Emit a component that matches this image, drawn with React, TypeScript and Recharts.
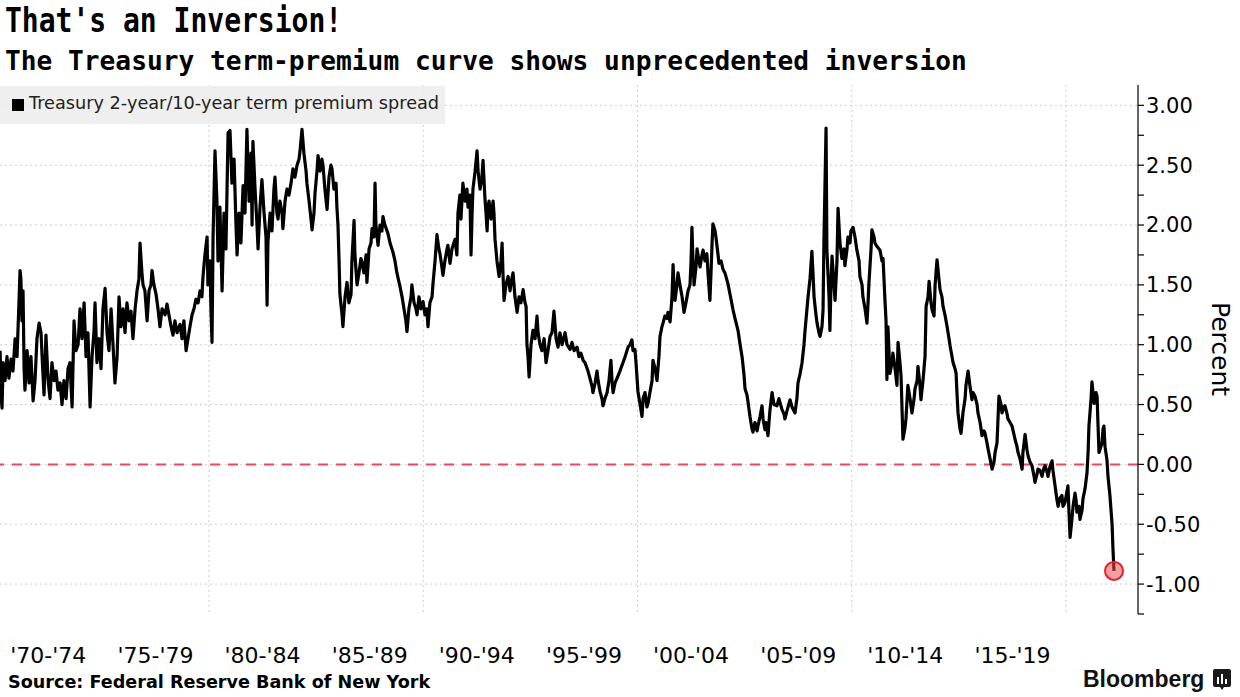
import { CartesianGrid, Line, LineChart, ReferenceDot, ReferenceLine, XAxis, YAxis } from 'recharts';

// [decimal year, spread in percent]
const spread1970s: [number, number][] = [
  [1970.25, 0.95], [1970.29, 0.6], [1970.34, 0.47], [1970.39, 0.85], [1970.48, 0.7], [1970.57, 0.9], [1970.66, 0.72], [1970.76, 0.88], [1970.85, 0.78], [1970.95, 1.05],
  [1971.04, 0.9], [1971.13, 1.35], [1971.18, 1.62], [1971.22, 1.55], [1971.27, 1.2], [1971.32, 1.45], [1971.37, 0.8], [1971.41, 0.62], [1971.51, 0.95], [1971.6, 0.68],
  [1971.69, 0.9], [1971.79, 0.53], [1971.88, 0.7], [1971.97, 1.05], [1972.07, 1.18], [1972.16, 1.1], [1972.21, 0.9], [1972.3, 0.58], [1972.39, 1.08], [1972.49, 0.7],
  [1972.58, 0.55], [1972.67, 0.85], [1972.77, 0.7], [1972.86, 0.78], [1972.95, 0.62], [1973.05, 0.68], [1973.14, 0.5], [1973.23, 0.7], [1973.33, 0.55], [1973.42, 0.8],
  [1973.51, 0.85], [1973.61, 0.48], [1973.7, 1.2], [1973.79, 0.95], [1973.89, 1.0], [1973.98, 1.3], [1974.07, 1.05], [1974.17, 1.35], [1974.26, 0.9], [1974.35, 1.1],
  [1974.45, 0.48], [1974.54, 0.9], [1974.63, 1.1], [1974.68, 1.35], [1974.77, 0.85], [1974.87, 1.05], [1974.96, 0.8], [1975.05, 1.3], [1975.15, 1.47], [1975.24, 1.1],
  [1975.33, 0.95], [1975.43, 1.3], [1975.52, 1.0], [1975.61, 0.68], [1975.71, 0.9], [1975.8, 1.4], [1975.89, 1.15], [1975.99, 1.3], [1976.08, 1.1], [1976.17, 1.35],
  [1976.27, 1.2], [1976.36, 1.28], [1976.45, 1.05], [1976.55, 1.3], [1976.64, 1.45], [1976.73, 1.55], [1976.78, 1.85], [1976.87, 1.6], [1976.92, 1.5], [1977.01, 1.45],
  [1977.11, 1.2], [1977.2, 1.45], [1977.29, 1.5], [1977.34, 1.62], [1977.43, 1.5], [1977.53, 1.42], [1977.62, 1.3], [1977.71, 1.15], [1977.81, 1.3], [1977.95, 1.25],
  [1978.04, 1.34], [1978.13, 1.25], [1978.23, 1.15], [1978.32, 1.08], [1978.41, 1.2], [1978.51, 1.1], [1978.65, 1.17], [1978.74, 1.05], [1978.83, 1.2], [1978.93, 0.95],
  [1979.02, 1.05], [1979.11, 1.15], [1979.21, 1.25], [1979.3, 1.3], [1979.39, 1.38], [1979.49, 1.35], [1979.58, 1.45], [1979.67, 1.4], [1979.72, 1.57], [1979.81, 1.75],
  [1979.91, 1.9], [1979.95, 1.5],
];

const spread1980s: [number, number][] = [
  [1980.05, 1.7], [1980.09, 1.3], [1980.14, 1.02], [1980.19, 1.9], [1980.28, 2.62], [1980.37, 2.2], [1980.42, 1.7], [1980.51, 2.15], [1980.61, 1.45], [1980.7, 2.1],
  [1980.79, 1.8], [1980.89, 2.77], [1980.98, 2.79], [1981.07, 2.35], [1981.17, 2.55], [1981.26, 2.0], [1981.31, 1.75], [1981.4, 2.1], [1981.49, 1.85], [1981.59, 2.33],
  [1981.68, 2.1], [1981.77, 2.8], [1981.87, 2.2], [1981.96, 2.6], [1982.01, 2.0], [1982.05, 2.7], [1982.15, 2.3], [1982.24, 2.0], [1982.29, 1.8], [1982.38, 2.15],
  [1982.47, 2.38], [1982.57, 2.1], [1982.66, 1.9], [1982.71, 1.33], [1982.75, 1.85], [1982.85, 2.1], [1982.94, 1.95], [1983.03, 2.3], [1983.08, 2.4], [1983.17, 2.1],
  [1983.22, 2.05], [1983.31, 2.2], [1983.41, 2.1], [1983.45, 1.97], [1983.55, 2.2], [1983.64, 2.3], [1983.73, 2.25], [1983.83, 2.35], [1983.92, 2.47], [1984.01, 2.4],
  [1984.11, 2.5], [1984.2, 2.55], [1984.25, 2.62], [1984.34, 2.8], [1984.43, 2.6], [1984.53, 2.45], [1984.57, 2.35], [1984.67, 2.2], [1984.76, 2.05], [1984.81, 1.96],
  [1984.9, 2.1], [1984.95, 2.27], [1985.04, 2.45], [1985.09, 2.58], [1985.18, 2.45], [1985.27, 2.55], [1985.32, 2.5], [1985.41, 2.3], [1985.51, 2.13], [1985.6, 2.4],
  [1985.69, 2.5], [1985.74, 2.47], [1985.83, 2.3], [1985.93, 2.35], [1985.97, 2.15], [1986.02, 2.0], [1986.07, 1.7], [1986.11, 1.42], [1986.21, 1.25], [1986.25, 1.15],
  [1986.35, 1.4], [1986.44, 1.52], [1986.53, 1.35], [1986.63, 1.42], [1986.67, 1.7], [1986.77, 2.04], [1986.81, 1.75], [1986.91, 1.5], [1987.0, 1.6], [1987.09, 1.72],
  [1987.14, 1.69], [1987.23, 1.6], [1987.33, 1.75], [1987.37, 1.52], [1987.47, 1.8], [1987.56, 1.85], [1987.61, 1.97], [1987.7, 1.9], [1987.75, 2.35], [1987.79, 2.0],
  [1987.89, 1.83], [1987.98, 2.0], [1988.07, 1.95], [1988.12, 2.07], [1988.21, 2.0], [1988.35, 1.93], [1988.45, 1.85], [1988.59, 1.77], [1988.68, 1.7], [1988.77, 1.6],
  [1988.91, 1.49], [1989.01, 1.4], [1989.1, 1.3], [1989.19, 1.2], [1989.24, 1.11], [1989.33, 1.3], [1989.43, 1.4], [1989.47, 1.5], [1989.57, 1.35], [1989.66, 1.3],
  [1989.71, 1.25], [1989.8, 1.4], [1989.89, 1.3],
];

const spread1990s: [number, number][] = [
  [1989.99, 1.36], [1990.08, 1.25], [1990.17, 1.3], [1990.22, 1.15], [1990.31, 1.35], [1990.41, 1.4], [1990.45, 1.5], [1990.55, 1.7], [1990.64, 1.92], [1990.73, 1.8],
  [1990.78, 1.76], [1990.87, 1.65], [1990.92, 1.58], [1991.01, 1.7], [1991.11, 1.8], [1991.15, 1.83], [1991.25, 1.68], [1991.34, 1.8], [1991.48, 1.88], [1991.57, 1.75],
  [1991.62, 2.1], [1991.71, 2.25], [1991.76, 2.05], [1991.85, 2.35], [1991.95, 2.2], [1992.04, 2.3], [1992.09, 2.15], [1992.18, 2.25], [1992.23, 1.75], [1992.28, 2.1],
  [1992.32, 2.3], [1992.42, 2.45], [1992.51, 2.62], [1992.56, 2.45], [1992.65, 2.3], [1992.74, 2.4], [1992.79, 2.54], [1992.88, 2.22], [1992.93, 2.1], [1992.98, 1.95],
  [1993.02, 2.15], [1993.07, 2.2], [1993.16, 2.05], [1993.26, 2.2], [1993.3, 2.1], [1993.35, 1.88], [1993.44, 1.7], [1993.54, 1.57], [1993.63, 1.7], [1993.68, 1.85],
  [1993.72, 1.6], [1993.77, 1.37], [1993.86, 1.5], [1993.96, 1.57], [1994.05, 1.45], [1994.1, 1.52], [1994.19, 1.6], [1994.28, 1.4], [1994.38, 1.27], [1994.47, 1.4],
  [1994.56, 1.35], [1994.66, 1.46], [1994.75, 1.35], [1994.8, 1.32], [1994.84, 1.0], [1994.89, 0.9], [1994.94, 0.73], [1995.03, 1.0], [1995.12, 1.12], [1995.22, 1.05],
  [1995.31, 1.24], [1995.36, 1.1], [1995.45, 1.0], [1995.54, 0.95], [1995.64, 1.05], [1995.73, 0.85], [1995.82, 0.95], [1995.92, 1.07], [1996.01, 1.1], [1996.1, 1.28],
  [1996.2, 1.05], [1996.29, 0.98], [1996.38, 1.1], [1996.48, 1.0], [1996.62, 1.1], [1996.71, 1.0], [1996.85, 0.96], [1996.94, 1.02], [1997.04, 0.95], [1997.18, 0.98],
  [1997.27, 0.9], [1997.36, 0.93], [1997.46, 0.87], [1997.55, 0.85], [1997.69, 0.78], [1997.78, 0.72], [1997.88, 0.65], [1997.92, 0.6], [1998.02, 0.68], [1998.11, 0.78],
  [1998.16, 0.7], [1998.25, 0.61], [1998.34, 0.55], [1998.39, 0.49], [1998.48, 0.55], [1998.58, 0.6], [1998.67, 0.7], [1998.76, 0.87], [1998.81, 0.7], [1998.86, 0.6],
  [1998.95, 0.68], [1999.09, 0.74], [1999.18, 0.78], [1999.32, 0.85], [1999.42, 0.9], [1999.56, 0.98], [1999.65, 1.0], [1999.74, 1.04], [1999.79, 0.95], [1999.88, 0.96],
  [1999.93, 0.85],
];

const spread2000s: [number, number][] = [
  [2000.02, 0.61], [2000.12, 0.5], [2000.21, 0.4], [2000.26, 0.55], [2000.35, 0.6], [2000.44, 0.48], [2000.49, 0.51], [2000.58, 0.6], [2000.68, 0.7], [2000.72, 0.87],
  [2000.82, 0.8], [2000.91, 0.7], [2001.0, 0.9], [2001.05, 1.07], [2001.14, 1.15], [2001.19, 1.18], [2001.28, 1.24], [2001.38, 1.22], [2001.42, 1.27], [2001.52, 1.19],
  [2001.61, 1.4], [2001.66, 1.67], [2001.7, 1.5], [2001.75, 1.37], [2001.84, 1.5], [2001.89, 1.6], [2001.98, 1.5], [2002.08, 1.4], [2002.17, 1.27], [2002.26, 1.35],
  [2002.36, 1.45], [2002.45, 1.5], [2002.5, 1.7], [2002.54, 1.98], [2002.59, 1.7], [2002.64, 1.5], [2002.73, 1.65], [2002.78, 1.8], [2002.87, 1.7], [2002.92, 1.65],
  [2003.01, 1.75], [2003.06, 1.79], [2003.15, 1.7], [2003.24, 1.76], [2003.29, 1.6], [2003.38, 1.37], [2003.43, 1.6], [2003.48, 1.85], [2003.52, 2.01], [2003.62, 1.95],
  [2003.66, 1.9], [2003.76, 1.75], [2003.8, 1.68], [2003.9, 1.7], [2003.99, 1.63], [2004.08, 1.6], [2004.22, 1.51], [2004.32, 1.42], [2004.46, 1.29], [2004.55, 1.22],
  [2004.69, 1.12], [2004.79, 1.0], [2004.88, 0.9], [2004.97, 0.75], [2005.02, 0.63], [2005.11, 0.58], [2005.16, 0.52], [2005.25, 0.4], [2005.34, 0.3], [2005.39, 0.27],
  [2005.48, 0.35], [2005.58, 0.28], [2005.62, 0.32], [2005.72, 0.4], [2005.81, 0.49], [2005.86, 0.38], [2005.95, 0.29], [2006.0, 0.35], [2006.09, 0.24], [2006.18, 0.45],
  [2006.28, 0.6], [2006.37, 0.5], [2006.51, 0.49], [2006.6, 0.55], [2006.74, 0.46], [2006.84, 0.42], [2006.88, 0.38], [2006.98, 0.45], [2007.12, 0.54], [2007.21, 0.48],
  [2007.35, 0.43], [2007.44, 0.55], [2007.49, 0.68], [2007.58, 0.75], [2007.68, 0.85], [2007.77, 1.0], [2007.82, 1.12], [2007.91, 1.3], [2007.96, 1.4], [2008.05, 1.55],
  [2008.14, 1.78], [2008.19, 1.6], [2008.24, 1.4], [2008.33, 1.25], [2008.38, 1.18], [2008.47, 1.1], [2008.52, 1.07], [2008.61, 1.15], [2008.66, 1.29], [2008.7, 1.85],
  [2008.8, 2.81], [2008.84, 1.79], [2008.94, 1.4], [2008.98, 1.12], [2009.03, 1.5], [2009.08, 1.74], [2009.17, 1.5], [2009.22, 1.37], [2009.31, 1.7], [2009.36, 2.14],
  [2009.45, 1.85], [2009.54, 1.72], [2009.64, 1.8], [2009.68, 1.66], [2009.78, 1.8], [2009.82, 1.9], [2009.92, 1.85], [2009.96, 1.95],
];

const spread2010s: [number, number][] = [
  [2010.06, 1.98], [2010.15, 1.9], [2010.24, 1.79], [2010.34, 1.7], [2010.38, 1.57], [2010.48, 1.5], [2010.52, 1.4], [2010.62, 1.3], [2010.71, 1.18], [2010.76, 1.35],
  [2010.8, 1.51], [2010.9, 1.8], [2010.94, 1.96], [2011.04, 1.9], [2011.08, 1.85], [2011.18, 1.82], [2011.32, 1.79], [2011.41, 1.7], [2011.46, 1.72], [2011.55, 1.37],
  [2011.6, 1.2], [2011.64, 0.71], [2011.69, 1.15], [2011.78, 0.76], [2011.88, 0.85], [2011.92, 0.93], [2012.02, 0.8], [2012.11, 0.66], [2012.16, 1.02], [2012.25, 0.85],
  [2012.3, 0.74], [2012.34, 0.5], [2012.39, 0.21], [2012.48, 0.3], [2012.53, 0.38], [2012.62, 0.66], [2012.72, 0.55], [2012.81, 0.43], [2012.91, 0.55], [2012.95, 0.63],
  [2013.05, 0.7], [2013.09, 0.82], [2013.19, 0.65], [2013.23, 0.54], [2013.33, 0.71], [2013.42, 0.9], [2013.47, 1.32], [2013.56, 1.4], [2013.61, 1.53], [2013.7, 1.35],
  [2013.75, 1.29], [2013.84, 1.24], [2013.89, 1.5], [2013.98, 1.71], [2014.07, 1.55], [2014.12, 1.46], [2014.21, 1.4], [2014.26, 1.32], [2014.35, 1.25], [2014.45, 1.15],
  [2014.54, 1.05], [2014.59, 0.99], [2014.68, 0.9], [2014.73, 0.85], [2014.82, 0.8], [2014.87, 0.76], [2014.91, 0.6], [2014.96, 0.43], [2015.05, 0.3], [2015.1, 0.26],
  [2015.15, 0.35], [2015.19, 0.43], [2015.29, 0.55], [2015.33, 0.66], [2015.38, 0.72], [2015.43, 0.78], [2015.52, 0.65], [2015.61, 0.54], [2015.66, 0.6], [2015.75, 0.57],
  [2015.85, 0.5], [2015.89, 0.43], [2015.99, 0.35], [2016.08, 0.24], [2016.17, 0.28], [2016.22, 0.26], [2016.31, 0.18], [2016.36, 0.13], [2016.45, 0.05], [2016.55, -0.04],
  [2016.64, 0.02], [2016.69, 0.1], [2016.78, 0.18], [2016.83, 0.4], [2016.87, 0.57], [2016.97, 0.5], [2017.01, 0.43], [2017.11, 0.48], [2017.15, 0.49], [2017.25, 0.42],
  [2017.29, 0.38], [2017.39, 0.35], [2017.48, 0.32], [2017.57, 0.25], [2017.62, 0.21], [2017.71, 0.15], [2017.76, 0.1], [2017.85, 0.05], [2017.95, -0.04], [2017.99, 0.1],
  [2018.09, 0.25], [2018.18, 0.12], [2018.23, 0.07], [2018.32, 0.02], [2018.41, -0.01], [2018.51, -0.1], [2018.55, -0.15], [2018.65, -0.08], [2018.69, -0.04], [2018.79, -0.05],
  [2018.88, -0.1], [2018.97, -0.03], [2019.02, -0.01], [2019.11, -0.06], [2019.16, -0.1], [2019.25, -0.02], [2019.35, 0.03], [2019.39, -0.05], [2019.49, -0.18], [2019.58, -0.3],
  [2019.63, -0.35], [2019.72, -0.28], [2019.81, -0.26], [2019.86, -0.35], [2019.95, -0.32],
];

const spread2020s: [number, number][] = [
  [2020.05, -0.22], [2020.09, -0.18], [2020.14, -0.4], [2020.19, -0.61], [2020.28, -0.45], [2020.33, -0.35], [2020.42, -0.24], [2020.47, -0.3], [2020.51, -0.4], [2020.61, -0.35],
  [2020.65, -0.46], [2020.75, -0.38], [2020.79, -0.29], [2020.89, -0.2], [2020.98, -0.07], [2021.03, 0.1], [2021.07, 0.32], [2021.17, 0.55], [2021.21, 0.69], [2021.26, 0.6],
  [2021.31, 0.51], [2021.4, 0.6], [2021.45, 0.57], [2021.49, 0.35], [2021.54, 0.1], [2021.63, 0.15], [2021.68, 0.18], [2021.73, 0.3], [2021.77, 0.32], [2021.82, 0.15],
  [2021.91, 0.04], [2021.96, -0.1], [2022.05, -0.26], [2022.15, -0.5], [2022.19, -0.7], [2022.24, -0.89],
];

const periodTicks = [1972.5, 1977.5, 1982.5, 1987.5, 1992.5, 1997.5, 2002.5, 2007.5, 2012.5, 2017.5];
const periodLabels = ["'70-'74", "'75-'79", "'80-'84", "'85-'89", "'90-'94", "'95-'99", "'00-'04", "'05-'09", "'10-'14", "'15-'19"];
const decadeLines = [1980, 1990, 2000, 2010, 2020];
const yTicks = [-1.25, -1, -0.75, -0.5, -0.25, 0, 0.25, 0.5, 0.75, 1, 1.25, 1.5, 1.75, 2, 2.25, 2.5, 2.75, 3];
const gridValues = [-1, -0.5, 0, 0.5, 1, 1.5, 2, 2.5, 3];

const rows = [...spread1970s, ...spread1980s, ...spread1990s, ...spread2000s, ...spread2010s, ...spread2020s].map(
  ([t, v]) => ({ t, v })
);
const last = rows[rows.length - 1];

const sans = '"DejaVu Sans", Verdana, sans-serif';
const mono = '"DejaVu Sans Mono", monospace';

function BloombergMark() {
  return (
    <svg width={18} height={22} viewBox="0 0 18 22">
      <path d="M2 0 H16 Q18 0 18 2 V16 Q18 18 16 18 H11 L9 21 L7 18 H2 Q0 18 0 16 V2 Q0 0 2 0 Z" fill="#1a1a1a" />
      <rect x={4} y={8} width={2} height={7} fill="#fff" />
      <rect x={8} y={5} width={2} height={10} fill="#fff" />
      <rect x={12} y={10} width={2} height={5} fill="#fff" />
    </svg>
  );
}

export default function App() {
  return (
    <div style={{ position: 'absolute', left: 0, top: 0, width: 1240, height: 697, background: '#fff', overflow: 'hidden' }}>
      <div style={{ position: 'absolute', left: 0, top: 0 }}>
        <LineChart width={1240} height={697} data={rows} margin={{ top: 85, right: 0, bottom: 23, left: 0 }}>
          <CartesianGrid
            stroke="#cfcfcf"
            strokeDasharray="2 3"
            horizontalValues={gridValues}
            verticalValues={decadeLines}
          />
          <XAxis
            dataKey="t"
            type="number"
            domain={[1970.245, 2023.36]}
            allowDataOverflow
            ticks={periodTicks}
            interval={0}
            tickFormatter={(v: number) => periodLabels[periodTicks.indexOf(v)]}
            axisLine={false}
            tickLine={false}
            tickSize={0}
            tickMargin={33}
            height={60}
            tick={{ fill: '#000', fontSize: 22, fontFamily: sans }}
          />
          <YAxis
            orientation="right"
            width={102}
            domain={[-1.25, 3.17]}
            allowDataOverflow
            ticks={yTicks}
            interval={0}
            tickFormatter={(v: number) => (Number.isInteger(v * 2) ? v.toFixed(2) : '')}
            axisLine={{ stroke: '#000', strokeWidth: 1.2 }}
            tickLine={{ stroke: '#000', strokeWidth: 1.2 }}
            tickSize={6}
            tickMargin={2}
            tick={{ fill: '#000', fontSize: 21, fontFamily: sans }}
          />
          <ReferenceLine y={0} stroke="#f2465e" strokeWidth={2} strokeDasharray="10 8" />
          <Line
            type="linear"
            dataKey="v"
            stroke="#000"
            strokeWidth={3.2}
            strokeLinejoin="round"
            dot={false}
            isAnimationActive={false}
          />
          <ReferenceDot x={last.t} y={last.v} r={9} fill="rgba(240,80,80,0.55)" stroke="#e3202b" strokeWidth={2} />
        </LineChart>
      </div>

      <div
        style={{
          position: 'absolute', left: 5, top: 4, fontFamily: mono, fontWeight: 'bold', fontSize: 28, color: '#000',
          whiteSpace: 'nowrap', transform: 'scaleY(1.18)', transformOrigin: 'left top', lineHeight: '30px',
        }}
      >
        That's an Inversion!
      </div>
      <div style={{ position: 'absolute', left: 5, top: 46, fontFamily: mono, fontWeight: 'bold', fontSize: 26.2, color: '#000', whiteSpace: 'nowrap' }}>
        The Treasury term-premium curve shows unprecedented inversion
      </div>

      <div style={{ position: 'absolute', left: 0, top: 86, width: 445, height: 38, background: 'rgba(236,236,236,0.85)' }}>
        <div style={{ position: 'absolute', left: 12, top: 13, width: 12, height: 12, background: '#000' }} />
        <div style={{ position: 'absolute', left: 29, top: 7, fontFamily: sans, fontSize: 17.7, color: '#222', whiteSpace: 'nowrap' }}>
          Treasury 2-year/10-year term premium spread
        </div>
      </div>

      <div style={{ position: 'absolute', left: 1206, top: 302, writingMode: 'vertical-rl', fontFamily: sans, fontSize: 25, color: '#000' }}>
        Percent
      </div>

      <div style={{ position: 'absolute', left: 8, top: 672, fontFamily: sans, fontWeight: 'bold', fontSize: 17.6, color: '#000', whiteSpace: 'nowrap' }}>
        Source: Federal Reserve Bank of New York
      </div>
      <div style={{ position: 'absolute', left: 1083, top: 666, display: 'flex', alignItems: 'center', gap: 9 }}>
        <span style={{ fontFamily: '"Liberation Sans", Arial, sans-serif', fontWeight: 'bold', fontSize: 23, color: '#111' }}>Bloomberg</span>
        <BloombergMark />
      </div>
    </div>
  );
}
